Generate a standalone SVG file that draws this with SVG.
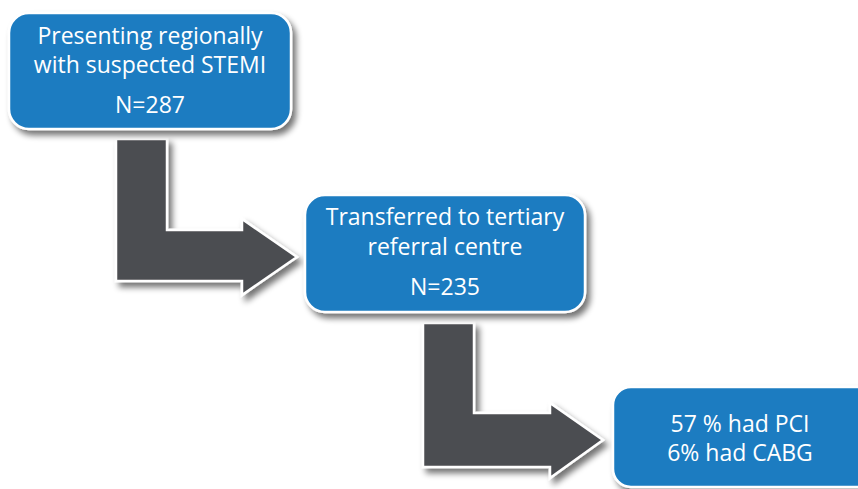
<svg xmlns="http://www.w3.org/2000/svg" width="858" height="489" viewBox="0 0 858 489">
  <defs>
    <filter id="shadow" x="-10%" y="-10%" width="130%" height="130%">
      <feGaussianBlur in="SourceAlpha" stdDeviation="3"/>
      <feOffset dx="4" dy="5" result="b"/>
      <feComponentTransfer><feFuncA type="linear" slope="0.55"/></feComponentTransfer>
      <feMerge><feMergeNode/><feMergeNode in="SourceGraphic"/></feMerge>
    </filter>
  </defs>
  <style>
    .box { fill: #1a7bc1; stroke: #ffffff; stroke-width: 2.5; filter: url(#shadow); }
    .arrow { fill: #4c4d51; stroke: #ffffff; stroke-width: 2.5; stroke-linejoin: miter; filter: url(#shadow); }
    .label { font-family: "Open Sans", Lato, sans-serif; font-size: 23px; fill: #ffffff; text-anchor: middle; }
  </style>
  <rect width="858" height="489" fill="#ffffff"/>

  <!-- elbow arrows between the steps -->
  <g id="connectors">
    <path class="arrow" d="M116,139 H167 V230 H242 V219 L297,257 L242,295 V281 H116 Z"/>
    <path class="arrow" d="M423,323 H474 V413 H550 V403 L603,440 L550,478 V467 H423 Z"/>
  </g>

  <g id="node-presenting">
    <rect class="box" x="9" y="13" width="282" height="116" rx="20"/>
    <text class="label" x="150" y="43.5">Presenting regionally</text>
    <text class="label" x="150" y="72.5">with suspected STEMI</text>
    <text class="label" x="150" y="113">N=287</text>
  </g>

  <g id="node-transferred">
    <rect class="box" x="305" y="195" width="280" height="117" rx="20"/>
    <text class="label" x="445" y="225">Transferred to tertiary</text>
    <text class="label" x="445" y="255">referral centre</text>
    <text class="label" x="445" y="295">N=235</text>
  </g>

  <g id="node-outcome">
    <rect class="box" x="613" y="387" width="265" height="100" rx="18"/>
    <text class="label" x="740" y="432">57 % had PCI</text>
    <text class="label" x="740" y="461">6% had CABG</text>
  </g>
</svg>
